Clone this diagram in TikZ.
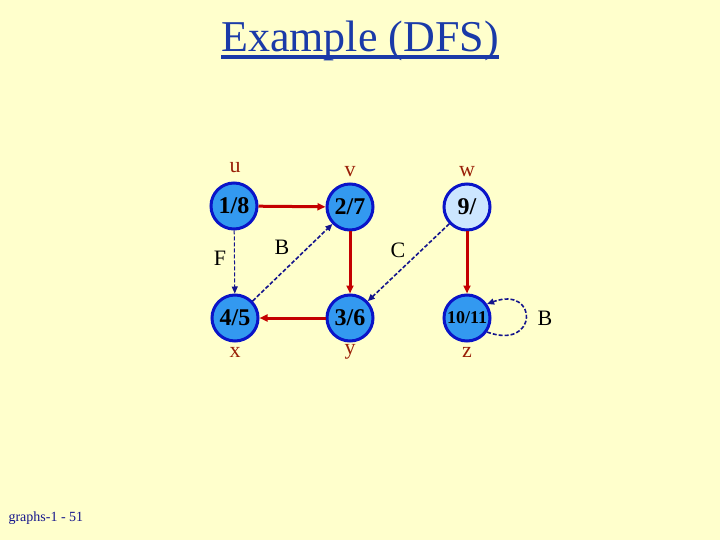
\documentclass[tikz,border=0pt]{standalone}
\usepackage{fontspec}
\setmainfont{Liberation Serif}
\usetikzlibrary{arrows.meta}
\definecolor{paper}{HTML}{FFFFCC}
\definecolor{titleblue}{HTML}{1A3AA8}
\definecolor{vfill}{HTML}{3399F0}
\definecolor{vfillpale}{HTML}{CCE6FF}
\definecolor{vborder}{HTML}{0A14C8}
\definecolor{treered}{HTML}{C40000}
\definecolor{nontree}{HTML}{14148C}
\definecolor{namered}{HTML}{9A2008}
\begin{document}
\begin{tikzpicture}[x=1pt, y=-1pt,
  vertex/.style={draw=vborder, line width=3pt, circle, fill=vfill, minimum size=46pt, inner sep=0pt,
    font=\fontsize{24}{24}\selectfont\bfseries},
  vname/.style={text=namered, font=\fontsize{22}{22}\selectfont},
  treeedge/.style={draw=treered, line width=3pt, -{Triangle[length=8pt, width=7pt]}},
  backedge/.style={draw=nontree, line width=1.6pt, dash pattern=on 4pt off 2pt, -{Triangle[length=7pt, width=6pt]}},
  elabel/.style={font=\fontsize{22}{22}\selectfont}
]
\fill[paper] (0,0) rectangle (720,540);
\useasboundingbox (0,0) rectangle (720,540);
\node[text=titleblue, inner sep=0pt, anchor=base, font=\fontsize{44}{44}\selectfont] (title) at (360,52) {Example (DFS)};
\draw[titleblue, line width=4pt] ([yshift=-5pt]title.base west) -- ([yshift=-5pt]title.base east);
\node[text=nontree, anchor=west, font=\fontsize{14}{14}\selectfont] (foot) at (5,518) {graphs-1 - 51};
\node[vertex] (u) at (234,206) {1/8};
\node[vertex] (v) at (350,207) {2/7};
\node[vertex, fill=vfillpale] (w) at (467,207) {9/};
\node[vertex] (x) at (235,318) {4/5};
\node[vertex] (y) at (350,318) {3/6};
\node[vertex, font=\fontsize{18}{18}\selectfont\bfseries] (z) at (467,318) {10/11};
\node[vname] (uname) at (235,168) {u};
\node[vname] (vname) at (350,172) {v};
\node[vname] (wname) at (467,172) {w};
\node[vname] (xname) at (235,352) {x};
\node[vname] (yname) at (350,352) {y};
\node[vname] (zname) at (467,352) {z};
\draw[treeedge] (u) -- (v);
\draw[treeedge] (v) -- (y);
\draw[treeedge] (y) -- (x);
\draw[treeedge] (w) -- (z);
\draw[backedge, line width=1pt] (u) -- (x);
\draw[backedge] (x) -- (v);
\draw[backedge] (w) -- (y);
\draw[backedge] (z.-35) to[out=-20, in=20, looseness=5] (z.35);
\node[elabel] (fl) at (220,258) {F};
\node[elabel] (bl) at (282,247) {B};
\node[elabel] (cl) at (398,250) {C};
\node[elabel] (zl) at (545,318) {B};
\end{tikzpicture}
\end{document}
